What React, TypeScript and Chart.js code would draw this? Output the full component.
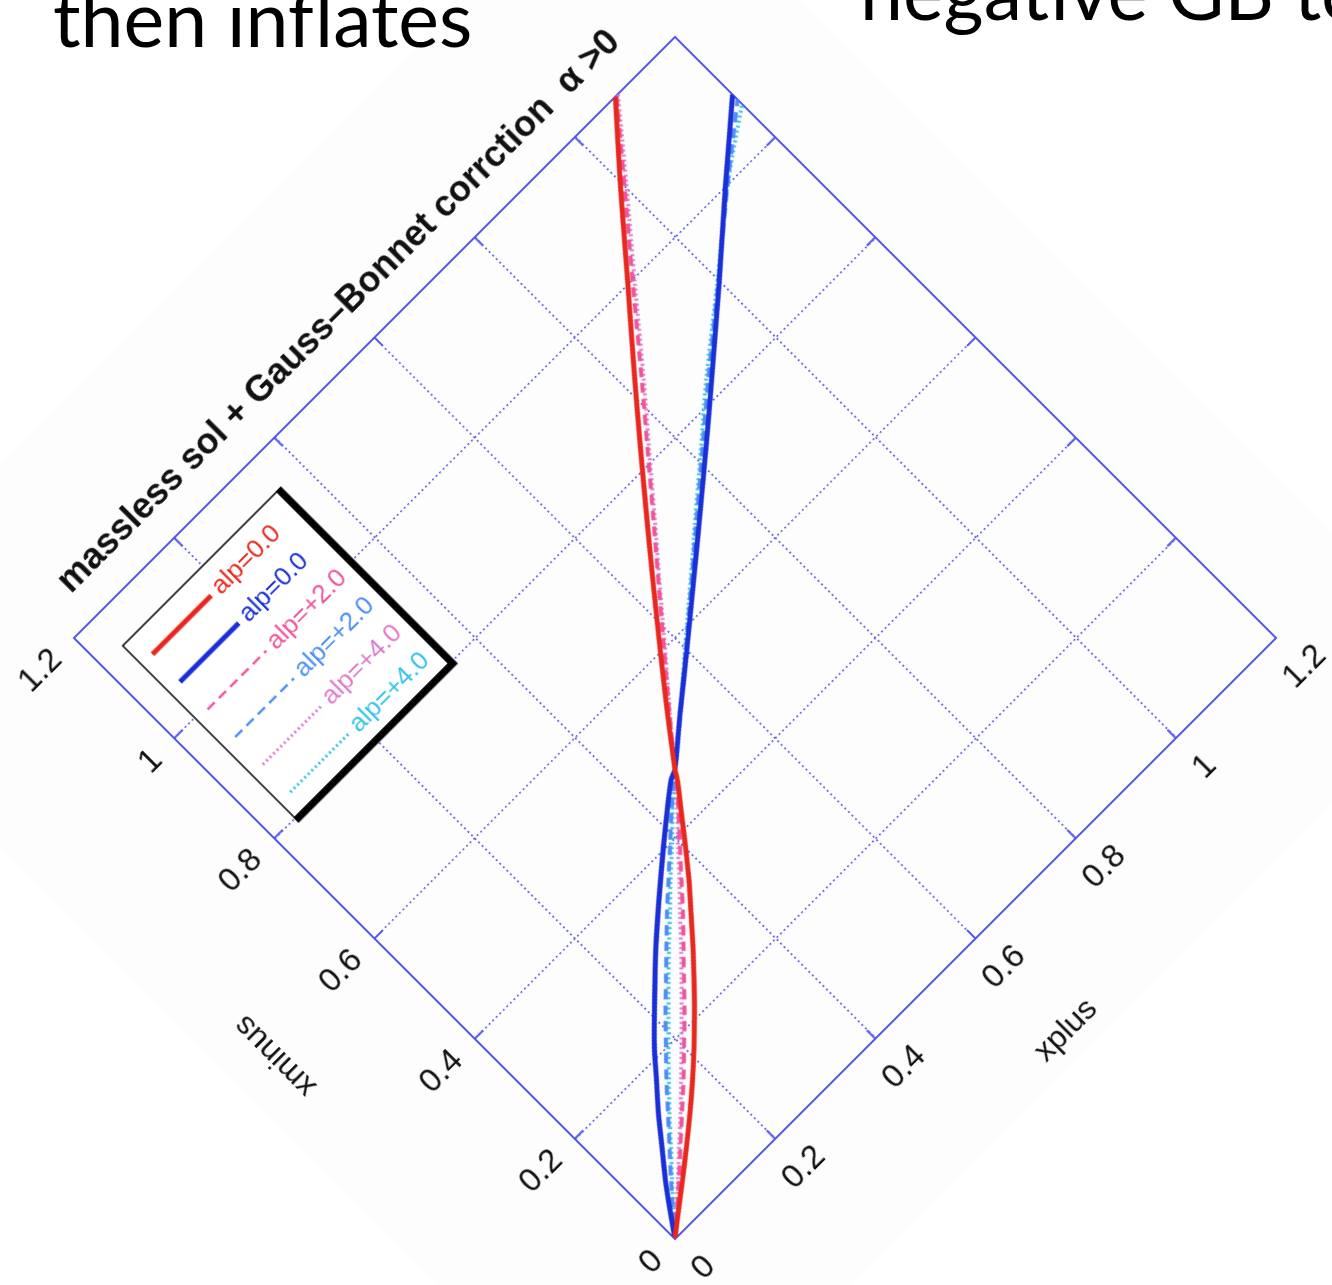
import React, { useEffect, useRef } from 'react';
import { Chart, registerables } from 'chart.js';

Chart.register(...registerables);

// ---- data ----
const tickValues = [0, 0.2, 0.4, 0.6, 0.8, 1.0, 1.2];
const tickLabels = ['0', '0.2', '0.4', '0.6', '0.8', '1', '1.2'];

const titleText = 'massless sol + Gauss\u2013Bonnet corrction  \u03b1 >0';
const xTitle = 'xplus';
const yTitle = 'xminus';

const seriesLabels = ['alp=0.0', 'alp=0.0', 'alp=+2.0', 'alp=+2.0', 'alp=+4.0', 'alp=+4.0'];

// alp=0.0 (red)
const redXplus = [0, 0.032, 0.066, 0.104, 0.141, 0.176, 0.211, 0.245, 0.277, 0.31, 0.341, 0.372, 0.402, 0.431, 0.46, 0.469, 0.517, 0.575, 0.635, 0.695, 0.755, 0.816, 0.906, 0.998, 1.081];
const redXminus = [0, 0.025, 0.051, 0.081, 0.111, 0.141, 0.173, 0.206, 0.239, 0.274, 0.309, 0.344, 0.381, 0.418, 0.455, 0.469, 0.532, 0.605, 0.679, 0.752, 0.824, 0.896, 1.0, 1.107, 1.2];

// alp=0.0 (blue)
const blueXplus = [0, 0.024, 0.049, 0.079, 0.109, 0.14, 0.171, 0.205, 0.238, 0.273, 0.308, 0.343, 0.38, 0.417, 0.454, 0.469, 0.529, 0.602, 0.675, 0.749, 0.821, 0.893, 0.997, 1.103, 1.2];
const blueXminus = [0, 0.034, 0.068, 0.105, 0.142, 0.177, 0.212, 0.246, 0.278, 0.311, 0.342, 0.372, 0.403, 0.433, 0.462, 0.469, 0.519, 0.578, 0.638, 0.699, 0.759, 0.82, 0.909, 1.002, 1.085];

// alp=+2.0 (pink, dashed)
const pinkXplus = [0, 0.031, 0.063, 0.098, 0.133, 0.167, 0.201, 0.235, 0.267, 0.301, 0.333, 0.364, 0.396, 0.428, 0.459, 0.468, 0.519, 0.579, 0.64, 0.702, 0.762, 0.823, 0.911, 1.002, 1.083];
const pinkXminus = [0, 0.027, 0.055, 0.087, 0.119, 0.15, 0.183, 0.216, 0.249, 0.284, 0.317, 0.351, 0.386, 0.421, 0.456, 0.468, 0.53, 0.601, 0.673, 0.746, 0.817, 0.889, 0.995, 1.103, 1.2];

// alp=+2.0 (light blue, dashed)
const skyXplus = [0, 0.027, 0.055, 0.087, 0.119, 0.15, 0.183, 0.216, 0.249, 0.284, 0.317, 0.351, 0.386, 0.421, 0.456, 0.468, 0.53, 0.601, 0.673, 0.746, 0.817, 0.889, 0.996, 1.105, 1.2];
const skyXminus = [0, 0.031, 0.063, 0.098, 0.133, 0.167, 0.201, 0.235, 0.267, 0.301, 0.333, 0.364, 0.396, 0.428, 0.459, 0.468, 0.519, 0.579, 0.64, 0.702, 0.762, 0.823, 0.91, 1.0, 1.075];

// alp=+4.0 (orchid, dotted)
const orchidXplus = [0, 0.03, 0.062, 0.096, 0.131, 0.165, 0.198, 0.232, 0.265, 0.298, 0.33, 0.362, 0.394, 0.427, 0.459, 0.466, 0.519, 0.58, 0.641, 0.703, 0.764, 0.825, 0.913, 1.004, 1.086];
const orchidXminus = [0, 0.027, 0.056, 0.088, 0.12, 0.153, 0.185, 0.219, 0.252, 0.286, 0.32, 0.353, 0.388, 0.422, 0.457, 0.466, 0.529, 0.6, 0.672, 0.744, 0.816, 0.887, 0.993, 1.101, 1.2];

// alp=+4.0 (cyan, dotted)
const cyanXplus = [0, 0.027, 0.056, 0.088, 0.12, 0.153, 0.185, 0.219, 0.252, 0.286, 0.32, 0.353, 0.388, 0.422, 0.457, 0.466, 0.529, 0.6, 0.672, 0.744, 0.816, 0.887, 0.995, 1.105, 1.2];
const cyanXminus = [0, 0.03, 0.062, 0.096, 0.131, 0.165, 0.198, 0.232, 0.265, 0.298, 0.33, 0.362, 0.394, 0.427, 0.459, 0.466, 0.519, 0.58, 0.641, 0.703, 0.764, 0.825, 0.911, 1.0, 1.066];

const seriesXplus = [redXplus, blueXplus, pinkXplus, skyXplus, orchidXplus, cyanXplus];
const seriesXminus = [redXminus, blueXminus, pinkXminus, skyXminus, orchidXminus, cyanXminus];

// ---- styles ----
const seriesStyles = [
  { color: '#e8281e', width: 5, dash: [] as number[], legendWidth: 5 },
  { color: '#1a2fd6', width: 5, dash: [] as number[], legendWidth: 5 },
  { color: '#f0559c', width: 4, dash: [10, 6], legendWidth: 2.5 },
  { color: '#4d8ff5', width: 4, dash: [10, 6], legendWidth: 2.5 },
  { color: '#e07acb', width: 4, dash: [2, 3], legendWidth: 3 },
  { color: '#35c3ea', width: 4, dash: [2, 3], legendWidth: 3 },
];

const FONT = '"Liberation Sans", Arial, Helvetica, sans-serif';
const GRID_COLOR = 'rgba(70, 70, 225, 0.9)';
const FRAME_COLOR = '#5252ec';

// canvas geometry (unrotated): square plot area with margins for labels
const CANVAS_W = 1165;
const CANVAS_H = 1183;
const PLOT = 850;
const PAD_LEFT = 200;
const PAD_TOP = 176;

// frame, mirrored inward ticks
const framePlugin = {
  id: 'gnuFrame',
  beforeDatasetsDraw(chart: any) {
    const { ctx, chartArea: a, scales } = chart;
    const tl = 12;
    ctx.save();
    ctx.strokeStyle = FRAME_COLOR;
    ctx.lineWidth = 2;
    ctx.setLineDash([]);
    ctx.strokeRect(a.left, a.top, a.right - a.left, a.bottom - a.top);
    ctx.beginPath();
    tickValues.forEach((v) => {
      const x = scales.x.getPixelForValue(v);
      const y = scales.y.getPixelForValue(v);
      ctx.moveTo(x, a.bottom);
      ctx.lineTo(x, a.bottom - tl);
      ctx.moveTo(x, a.top);
      ctx.lineTo(x, a.top + tl);
      ctx.moveTo(a.left, y);
      ctx.lineTo(a.left + tl, y);
      ctx.moveTo(a.right, y);
      ctx.lineTo(a.right - tl, y);
    });
    ctx.stroke();
    ctx.restore();
  },
};

// boxed legend with heavy right/bottom edges, and the text titles
const annotatePlugin = {
  id: 'gnuLegendAndTitles',
  afterDatasetsDraw(chart: any) {
    const { ctx, chartArea: a } = chart;
    const bx = a.left + 29;
    const by = a.top + 40;
    const bw = 218;
    const bh = 243;
    ctx.save();
    ctx.fillStyle = '#ffffff';
    ctx.fillRect(bx, by, bw, bh);
    ctx.strokeStyle = '#000';
    ctx.lineWidth = 1.5;
    ctx.strokeRect(bx, by, bw, bh);
    ctx.lineWidth = 7;
    ctx.beginPath();
    ctx.moveTo(bx + bw + 3, by - 1);
    ctx.lineTo(bx + bw + 3, by + bh + 3);
    ctx.moveTo(bx - 1, by + bh + 3);
    ctx.lineTo(bx + bw + 6.5, by + bh + 3);
    ctx.stroke();

    chart.data.datasets.forEach((ds: any, i: number) => {
      const st = seriesStyles[i];
      const y = by + 27 + i * 39;
      ctx.beginPath();
      ctx.setLineDash(st.dash);
      ctx.strokeStyle = st.color;
      ctx.lineWidth = st.legendWidth;
      ctx.lineCap = 'butt';
      ctx.moveTo(bx + 15, y);
      ctx.lineTo(bx + 98, y);
      ctx.stroke();
      ctx.setLineDash([]);
      ctx.fillStyle = st.color;
      ctx.font = `26px ${FONT}`;
      ctx.textAlign = 'left';
      ctx.textBaseline = 'middle';
      ctx.fillText(ds.label, bx + 105, y);
    });

    const cx = (a.left + a.right) / 2;
    const cy = (a.top + a.bottom) / 2;
    ctx.fillStyle = '#111';
    ctx.font = `bold 36px ${FONT}`;
    ctx.textAlign = 'center';
    ctx.textBaseline = 'alphabetic';
    ctx.fillText(titleText, cx - 7, a.top - 33);

    ctx.font = `32px ${FONT}`;
    ctx.textBaseline = 'middle';
    ctx.fillText(xTitle, cx - 1, a.bottom + 129);
    ctx.translate(a.left - 153, cy + 13);
    ctx.rotate(-Math.PI / 2);
    ctx.fillText(yTitle, 0, 0);
    ctx.restore();
  },
};

function axisOptions(fitSize: (s: any) => void) {
  return {
    type: 'linear' as const,
    min: 0,
    max: 1.2,
    afterBuildTicks: (s: any) => {
      s.ticks = tickValues.map((v) => ({ value: v }));
    },
    afterFit: fitSize,
    ticks: {
      autoSkip: false,
      maxRotation: 0,
      minRotation: 0,
      color: '#111',
      font: { family: FONT, size: 33 },
      padding: 21,
      callback: (v: number) => tickLabels[tickValues.indexOf(Number(v))] ?? '',
    },
    grid: { color: GRID_COLOR, lineWidth: 1.6, drawTicks: false },
    border: { display: false, dash: [2, 3] },
  };
}

function PhaseChart() {
  const ref = useRef<HTMLCanvasElement | null>(null);

  useEffect(() => {
    if (!ref.current) return;
    const datasets = seriesLabels.map((label, i) => ({
      label,
      data: seriesXplus[i].map((x, k) => ({ x, y: seriesXminus[i][k] })),
      showLine: true,
      pointRadius: 0,
      borderColor: seriesStyles[i].color,
      borderWidth: seriesStyles[i].width,
      borderDash: seriesStyles[i].dash,
      tension: 0.3,
      fill: false,
    }));

    const xOpts: any = axisOptions((s: any) => {
      s.height = 100;
    });
    const yOpts: any = axisOptions((s: any) => {
      s.width = 100;
    });
    yOpts.ticks.padding = 24;

    const chart = new Chart(ref.current, {
      type: 'scatter',
      data: { datasets },
      options: {
        responsive: false,
        animation: false,
        devicePixelRatio: 1,
        layout: {
          padding: {
            left: PAD_LEFT - 100,
            top: PAD_TOP,
            right: CANVAS_W - PAD_LEFT - PLOT,
            bottom: CANVAS_H - PAD_TOP - PLOT - 100,
          },
        },
        plugins: {
          legend: { display: false },
          title: { display: false },
          tooltip: { enabled: false },
        },
        scales: { x: xOpts, y: yOpts },
      },
      plugins: [framePlugin, annotatePlugin],
    });
    return () => chart.destroy();
  }, []);

  // rotate the square plot by -45 degrees about its centre
  const originX = PAD_LEFT + PLOT / 2;
  const originY = PAD_TOP + PLOT / 2;
  return (
    <canvas
      ref={ref}
      width={CANVAS_W}
      height={CANVAS_H}
      style={{
        position: 'absolute',
        left: 675 - originX,
        top: 638 - originY,
        width: CANVAS_W,
        height: CANVAS_H,
        background: '#fdfdfd',
        transformOrigin: `${originX}px ${originY}px`,
        transform: 'rotate(-45deg)',
        filter: 'blur(0.7px)',
      }}
    />
  );
}

export default function App() {
  const headFont = 'Lato, "Open Sans", "DejaVu Sans", sans-serif';
  const headSize = 77;
  return (
    <div
      style={{
        position: 'absolute',
        left: 0,
        top: 0,
        width: 1332,
        height: 1285,
        overflow: 'hidden',
        background: '#ffffff',
      }}
    >
      <PhaseChart />
      <div
        style={{
          position: 'absolute',
          left: 53,
          top: -21,
          fontFamily: headFont,
          fontSize: headSize,
          lineHeight: `${headSize}px`,
          color: '#000',
          whiteSpace: 'nowrap',
        }}
      >
        then inflates
      </div>
      <div
        style={{
          position: 'absolute',
          left: 860,
          top: -48,
          fontFamily: headFont,
          fontSize: headSize,
          lineHeight: `${headSize}px`,
          color: '#000',
          whiteSpace: 'nowrap',
        }}
      >
        negative GB term
      </div>
    </div>
  );
}
